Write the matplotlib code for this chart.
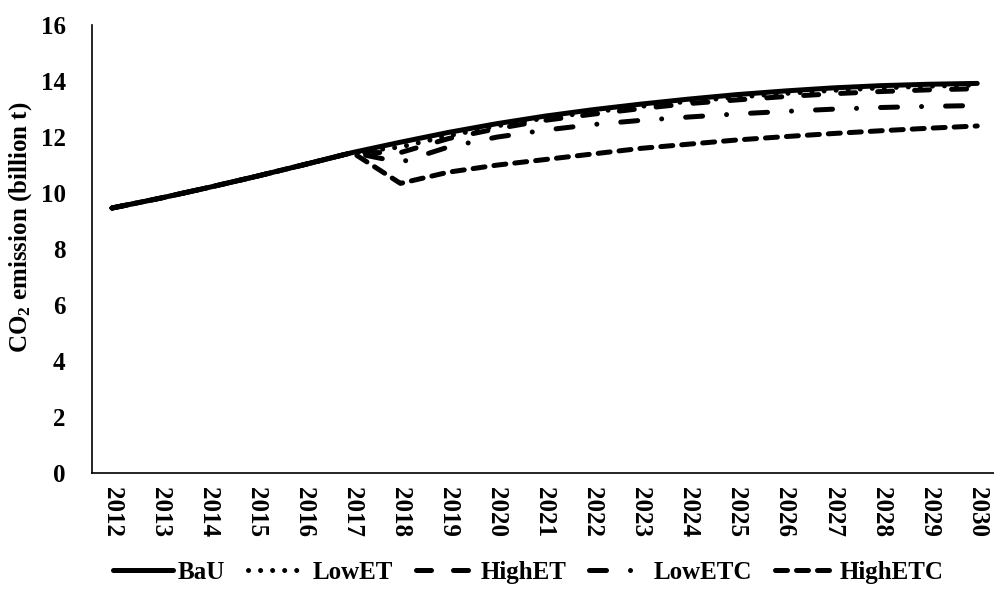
import matplotlib.pyplot as plt

plt.rcParams['font.family'] = ['Liberation Serif', 'DejaVu Serif']
plt.rcParams['font.weight'] = 'bold'
plt.rcParams['mathtext.fontset'] = 'custom'
plt.rcParams['mathtext.rm'] = 'Liberation Serif:bold'
plt.rcParams['mathtext.it'] = 'Liberation Serif:bold'
plt.rcParams['mathtext.default'] = 'rm'

# Data (billion t)
years = list(range(2012, 2031))
bau = [9.47, 9.82, 10.2, 10.6, 11.02, 11.45, 11.82, 12.17, 12.48, 12.75,
       12.98, 13.18, 13.36, 13.52, 13.65, 13.76, 13.84, 13.89, 13.92]
low_et = bau[:6] + [11.65, 12.05, 12.4, 12.68, 12.9, 13.1, 13.28, 13.43,
                    13.56, 13.67, 13.76, 13.82, 13.86]
high_et = bau[:6] + [11.45, 11.95, 12.3, 12.6, 12.82, 13.02, 13.2, 13.33,
                     13.45, 13.55, 13.63, 13.69, 13.73]
low_etc = bau[:6] + [11.1, 11.65, 12.0, 12.25, 12.45, 12.6, 12.72, 12.83,
                     12.92, 13.0, 13.06, 13.1, 13.13]
high_etc = bau[:6] + [10.35, 10.75, 11.0, 11.2, 11.4, 11.6, 11.75, 11.9,
                      12.02, 12.13, 12.23, 12.32, 12.4]

fig = plt.figure(figsize=(9.95, 5.99), dpi=100)
ax = fig.add_axes([0.0925, 0.21, 0.9075, 0.748])

common = dict(color='black', lw=3.6, solid_capstyle='round', dash_capstyle='round')
ax.plot(years, bau, label='BaU', **common)
ax.plot(years, low_et, linestyle=(0, (0.01, 2.4)), label='LowET', **common)
ax.plot(years, high_et, linestyle=(0, (3.0, 4.4)), label='HighET', **common)
ax.plot(years, low_etc, linestyle=(0, (3.4, 4.8, 0.01, 4.8)), label='LowETC', **common)
ax.plot(years, high_etc, linestyle=(0, (2.4, 1.8)), label='HighETC', **common)

ax.set_xlim(2011.584, 2030.37)
ax.set_ylim(0, 16)
ax.set_yticks(range(0, 17, 2))
ax.set_xticks(years)
ax.set_xticklabels([str(y) for y in years], rotation=-90, fontsize=18, fontweight='bold')
ax.tick_params(axis='y', labelsize=18, length=0, pad=19)
ax.tick_params(axis='x', length=0, pad=10)
for lab in ax.get_yticklabels():
    lab.set_fontweight('bold')

ax.spines['top'].set_visible(False)
ax.spines['right'].set_visible(False)
ax.spines['left'].set_linewidth(1.2)
ax.spines['bottom'].set_linewidth(1.2)

ax.set_ylabel(r'CO$_2$ emission (billion t)', fontsize=18, fontweight='bold')
ax.yaxis.set_label_coords(-0.064, 0.55)

fig.legend(loc='center', bbox_to_anchor=(0.531, 0.044), ncol=5, frameon=False,
           handlelength=2.4, handletextpad=0.2, columnspacing=0.9,
           prop={'weight': 'bold', 'size': 18})

fig.savefig('out.png', dpi=100)
